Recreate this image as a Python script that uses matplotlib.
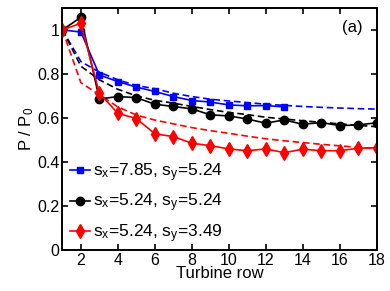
import numpy as np
import matplotlib
matplotlib.use('Agg')
import matplotlib.pyplot as plt

plt.rcParams['font.family'] = ['Liberation Sans', 'DejaVu Sans']
plt.rcParams['mathtext.fontset'] = 'custom'
plt.rcParams['mathtext.rm'] = 'Liberation Sans'
plt.rcParams['mathtext.it'] = 'Liberation Sans'

# measured power per row (normalised by first row)
rows_a = np.arange(1, 14)
p_a = [1.0, 0.99, 0.795, 0.765, 0.74, 0.72, 0.697, 0.679, 0.672, 0.659, 0.655, 0.656, 0.65]
rows_b = np.arange(1, 19)
p_b = [1.0, 1.057, 0.686, 0.697, 0.692, 0.662, 0.652, 0.641, 0.614, 0.609, 0.595, 0.576,
       0.591, 0.571, 0.579, 0.565, 0.568, 0.578]
p_c = [1.0, 1.03, 0.712, 0.621, 0.597, 0.528, 0.515, 0.485, 0.474, 0.459, 0.451, 0.459,
       0.442, 0.458, 0.451, 0.451, 0.462, 0.465]

# model curves
rows_m = np.arange(1, 19)
m_a = [1.0, 0.856, 0.808, 0.773, 0.747, 0.733, 0.712, 0.697, 0.685, 0.677, 0.67, 0.662,
       0.657, 0.652, 0.648, 0.645, 0.642, 0.640]
m_b = [1.0, 0.835, 0.773, 0.73, 0.70, 0.68, 0.667, 0.652, 0.638, 0.625, 0.615, 0.603,
       0.595, 0.587, 0.58, 0.573, 0.566, 0.56]
m_c = [1.0, 0.76, 0.705, 0.65, 0.613, 0.59, 0.573, 0.556, 0.542, 0.53, 0.517, 0.505,
       0.496, 0.488, 0.48, 0.473, 0.466, 0.46]

labels = [r'$\mathrm{s_x}$=7.85, $\mathrm{s_y}$=5.24',
          r'$\mathrm{s_x}$=5.24, $\mathrm{s_y}$=5.24',
          r'$\mathrm{s_x}$=5.24, $\mathrm{s_y}$=3.49']

fig = plt.figure(figsize=(3.9, 2.91), dpi=100)
ax = fig.add_axes([0.16, 0.141, 0.806, 0.832])

dash = (4, 2.2)
ax.plot(rows_m, m_a, color='#0000ff', lw=1.2, ls='--', dashes=dash)
ax.plot(rows_m, m_b, color='black', lw=1.2, ls='--', dashes=dash)
ax.plot(rows_m, m_c, color='#ff0000', lw=1.2, ls='--', dashes=dash)

ax.plot(rows_a, p_a, color='#0000ff', lw=1.2, marker='s', ms=5, label=labels[0])
ax.plot(rows_b, p_b, color='black', lw=1.2, marker='o', ms=6, label=labels[1])
ax.plot(rows_b, p_c, color='#ff0000', lw=1.2, marker='d', ms=7, label=labels[2])

ax.set_xlim(1, 18)
ax.set_ylim(0, 1.1)
ax.set_xticks(range(2, 19, 2))
ax.set_yticks([0, 0.2, 0.4, 0.6, 0.8, 1.0])
ax.set_yticklabels(['0', '0.2', '0.4', '0.6', '0.8', '1'])
ax.tick_params(direction='in', top=True, right=True, length=4, width=1.2,
               labelsize=11.5, pad=2)
for s in ax.spines.values():
    s.set_linewidth(1.4)

ax.set_xlabel('Turbine row', fontsize=12, labelpad=-1)
ax.set_ylabel(r'P / P$_0$', fontsize=12, labelpad=1)
ax.text(16.7, 1.01, '(a)', fontsize=12, ha='center', va='center')

ax.legend(loc='center left', frameon=False, fontsize=12.5, handlelength=1.15,
          handletextpad=0.15, labelspacing=0.45, borderpad=0, borderaxespad=0,
          bbox_to_anchor=(0.025, 0.194))

fig.savefig('out.png', dpi=100)
